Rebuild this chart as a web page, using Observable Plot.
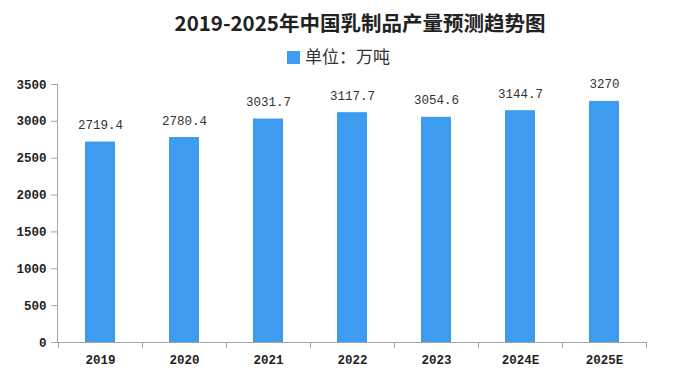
<!DOCTYPE html>
<html><head><meta charset="utf-8">
<script src="https://cdn.jsdelivr.net/npm/d3@7"></script>
<script src="https://cdn.jsdelivr.net/npm/@observablehq/plot@0.6"></script>
<style>
html,body{margin:0;padding:0;background:#fff;}
#wrap{position:relative;width:677px;height:375px;overflow:hidden;}
#title{position:absolute;left:0;top:7px;width:720px;text-align:center;font:bold 20.5px "Noto Sans CJK SC";color:#222;line-height:30px;}
#legend{position:absolute;left:0;top:44px;width:677px;text-align:center;font:17px "Noto Sans CJK SC";color:#333;line-height:24px;}
#legend span.sw{display:inline-block;width:13px;height:13px;background:#3d9cf0;vertical-align:-1px;margin-right:5px;}
#chart{position:absolute;left:0;top:70px;}
</style></head>
<body><div id="wrap">
<div id="title">2019-2025年中国乳制品产量预测趋势图</div>
<div id="legend"><span class="sw"></span>单位：万吨</div>
<div id="chart"></div>
</div>
<script>
const years = ["2019","2020","2021","2022","2023","2024E","2025E"];
const output = [2719.4, 2780.4, 3031.7, 3117.7, 3054.6, 3144.7, 3270];
const labels = ["2719.4","2780.4","3031.7","3117.7","3054.6","3144.7","3270"];
const yTicks = [0,500,1000,1500,2000,2500,3000,3500];

const data = years.map((y,i)=>({year:y, value:output[i], label:labels[i]}));
const axisColor = "#a6a6a6";

const axisLines = (index, scales, values, dims) => {
  const g = d3.create("svg:g").attr("stroke", axisColor).attr("fill","none");
  const x = scales.x, y = scales.y;
  const y0 = y(0), yTop = y(3500);
  const left = dims.marginLeft, right = dims.width - dims.marginRight;
  g.append("line").attr("x1",left+0.5).attr("x2",left+0.5).attr("y1",yTop).attr("y2",y0);
  g.append("line").attr("x1",left).attr("x2",right).attr("y1",y0+0.5).attr("y2",y0+0.5);
  const step = x.step ? x.step() : x.bandwidth();
  const xs = years.map(c => x(c)).concat([x(years[years.length-1]) + step]);
  for (const px of xs) {
    g.append("line").attr("x1",Math.round(px)+0.5).attr("x2",Math.round(px)+0.5).attr("y1",y0).attr("y2",y0+6);
  }
  return g.node();
};

const chart = Plot.plot({
  width: 677,
  height: 305,
  marginTop: 14,
  marginBottom: 33,
  marginLeft: 57,
  marginRight: 30,
  style: {fontFamily: "Liberation Mono", fontSize: "12.5px", color: "#222", background: "#fff"},
  x: {domain: years, padding: 0, label: null},
  y: {domain: [0, 3500], label: null},
  marks: [
    Plot.barY(data, {x: "year", y: "value", fill: "#3d9cf0", insetLeft: 27, insetRight: 27}),
    Plot.text(data, {x: "year", y: "value", text: "label", dy: -17, fill: "#333", fontSize: 12.5}),
    Plot.axisY({ticks: yTicks, tickFormat: d => String(d), tickSize: 6, tickPadding: 5, stroke: axisColor, fill: "#222", fontWeight: "bold", label: null}),
    Plot.axisX({tickSize: 0, tickPadding: 13, fill: "#222", fontWeight: "bold", label: null}),
    axisLines
  ]
});
document.getElementById("chart").appendChild(chart);
</script>
</body></html>
